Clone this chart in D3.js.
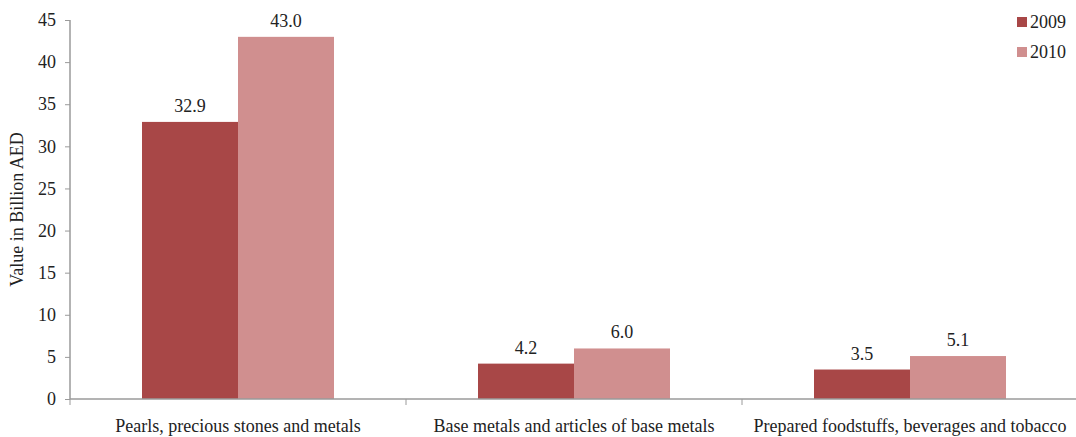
<!DOCTYPE html>
<html>
<head>
<meta charset="utf-8">
<script src="https://cdn.jsdelivr.net/npm/d3@7"></script>
<style>
  html, body { margin: 0; padding: 0; background: #fff; }
  svg { display: block; }
  svg text { font-family: "Liberation Serif", "Times New Roman", Times, "DejaVu Serif", serif; }
</style>
</head>
<body>
<svg id="chart" width="1076" height="437"></svg>
<script>
// Export categories and values (billion AED)
const categories = [
  "Pearls, precious stones and metals",
  "Base metals and articles of base metals",
  "Prepared foodstuffs, beverages and tobacco"
];
const years = ["2009", "2010"];
const values2009 = [32.9, 4.2, 3.5];
const values2010 = [43.0, 6.0, 5.1];
const yTicks = [0, 5, 10, 15, 20, 25, 30, 35, 40, 45];
const yTitle = "Value in Billion AED";

const colors = { "2009": "#a84747", "2010": "#d08f8f" };

const svg = d3.select("#chart");
const margin = { left: 70, right: -2, top: 20, bottom: 38 };
const W = 1076, H = 437;

const x0 = d3.scaleBand()
  .domain(categories)
  .range([margin.left, W - margin.right])
  .paddingInner(0)
  .paddingOuter(0);

const x1 = d3.scaleBand()
  .domain(years)
  .range([0, x0.bandwidth()])
  .paddingInner(0)
  .paddingOuter(0.75);

const y = d3.scaleLinear()
  .domain([0, 45])
  .range([H - margin.bottom, margin.top]);

const rows = categories.map((c, i) => ({
  cat: c,
  vals: [
    { year: "2009", v: values2009[i] },
    { year: "2010", v: values2010[i] }
  ]
}));

// Bars
const groups = svg.append("g").selectAll("g")
  .data(rows).join("g")
  .attr("transform", d => `translate(${x0(d.cat)},0)`);

groups.selectAll("rect")
  .data(d => d.vals).join("rect")
  .attr("x", d => x1(d.year))
  .attr("y", d => y(d.v))
  .attr("width", x1.bandwidth())
  .attr("height", d => y(0) - y(d.v))
  .attr("fill", d => colors[d.year]);

// Value labels
groups.selectAll("text")
  .data(d => d.vals).join("text")
  .attr("x", d => x1(d.year) + x1.bandwidth() / 2)
  .attr("y", d => y(d.v) - 10)
  .attr("text-anchor", "middle")
  .attr("font-size", 18)
  .attr("fill", "#222")
  .text(d => d.v.toFixed(1));

// Y axis
const yAxis = svg.append("g")
  .attr("transform", `translate(${margin.left},0)`)
  .call(d3.axisLeft(y).tickValues(yTicks).tickSize(5).tickPadding(9));
yAxis.attr("font-family", null);
yAxis.select(".domain").attr("stroke", "#9a9a9a").attr("stroke-width", 1.5)
  .attr("d", `M0,${y(45)}V${y(0)}`);
yAxis.selectAll(".tick line").attr("stroke", "#9a9a9a");
yAxis.selectAll(".tick text")
  .attr("font-size", 18)
  .attr("fill", "#222");

// X axis with ticks at category boundaries
const xAxisY = y(0);
svg.append("line")
  .attr("x1", margin.left).attr("x2", W)
  .attr("y1", xAxisY).attr("y2", xAxisY)
  .attr("stroke", "#9a9a9a").attr("stroke-width", 1.5);

svg.append("g").selectAll("line")
  .data(categories).join("line")
  .attr("x1", d => x0(d)).attr("x2", d => x0(d))
  .attr("y1", xAxisY).attr("y2", xAxisY + 6)
  .attr("stroke", "#9a9a9a");

svg.append("g").selectAll("text")
  .data(categories).join("text")
  .attr("x", d => x0(d) + x0.bandwidth() / 2)
  .attr("y", xAxisY + 33)
  .attr("text-anchor", "middle")
  .attr("font-size", 18)
  .attr("fill", "#222")
  .text(d => d);

// Y axis title
svg.append("text")
  .attr("transform", `translate(23,${(y(0) + y(45)) / 2}) rotate(-90)`)
  .attr("text-anchor", "middle")
  .attr("font-size", 18)
  .attr("fill", "#222")
  .text(yTitle);

// Legend
const legend = svg.append("g").selectAll("g")
  .data(years).join("g")
  .attr("transform", (d, i) => `translate(1017,${22 + i * 30})`);
legend.append("rect")
  .attr("x", 0).attr("y", -5)
  .attr("width", 10).attr("height", 10)
  .attr("fill", d => colors[d]);
legend.append("text")
  .attr("x", 13).attr("y", 6)
  .attr("font-size", 18)
  .attr("fill", "#222")
  .text(d => d);
</script>
</body>
</html>
